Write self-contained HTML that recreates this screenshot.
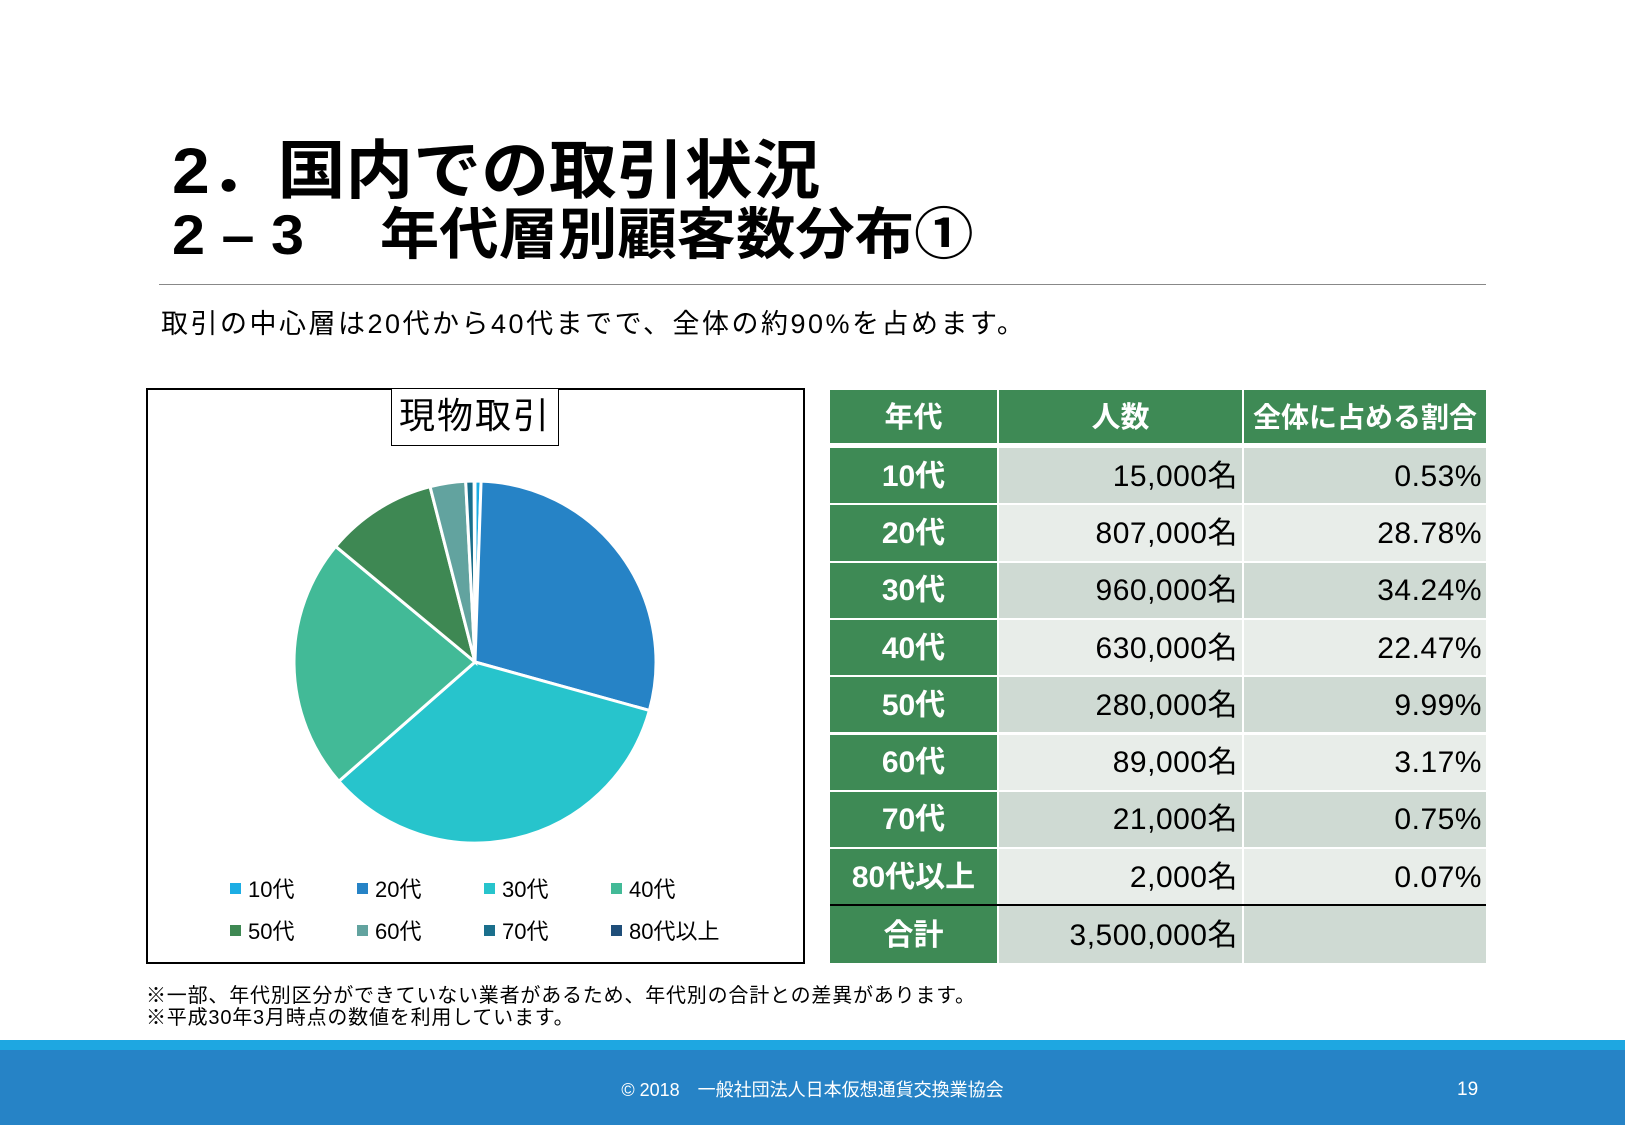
<!DOCTYPE html>
<html><head><meta charset="utf-8">
<style>
*{margin:0;padding:0;box-sizing:border-box}
body{width:1625px;height:1125px;background:#fff;position:relative;overflow:hidden;font-family:"Liberation Sans","Noto Sans CJK JP",sans-serif;color:#000}
.abs{position:absolute;white-space:nowrap}
.t1{left:172px;top:136px;font-size:64px;font-weight:bold;line-height:70px;transform:scaleX(1.06);transform-origin:left}
.t2{left:172px;top:200px;font-size:56px;font-weight:bold;line-height:70px;transform:scaleX(1.06);transform-origin:left}
.cell{position:absolute;display:flex;align-items:center;font-size:30px;line-height:36px}
.cell span{display:block;line-height:36px;padding-top:2px}
.lab{background:#3e8a55;color:#fff;font-weight:bold;justify-content:center}
.num{justify-content:flex-end;padding-right:4px;letter-spacing:0.5px}
</style></head><body>
<div class="abs t1">2．国内での取引状況</div>
<div class="abs t2">2 – 3　 年代層別顧客数分布①</div>
<div class="abs" style="left:159px;top:284px;width:1327px;height:1px;background:#888"></div>
<div class="abs" style="left:161px;top:306px;font-size:27px;line-height:36px;letter-spacing:2.5px">取引の中心層は20代から40代までで、全体の約90%を占めます。</div>

<div class="abs" style="left:146px;top:388px;width:659px;height:576px;border:2px solid #000"></div>
<div class="abs" style="left:391px;top:388px;width:168px;height:58px;border:1.5px solid #000;background:#fff;font-size:36px;line-height:54px;text-align:center;letter-spacing:2px">現物取引</div>
<svg class="abs" id="pie" style="left:0;top:0" width="1625" height="1125"></svg>

<div id="table"></div>

<div class="abs" style="left:146px;top:984px;font-size:20px;line-height:24px;letter-spacing:0.8px">※一部、年代別区分ができていない業者があるため、年代別の合計との差異があります。</div>
<div class="abs" style="left:146px;top:1006px;font-size:20px;line-height:24px;letter-spacing:0.8px">※平成30年3月時点の数値を利用しています。</div>

<div class="abs" style="left:0;top:1040px;width:1625px;height:10px;background:#1ea7e1"></div>
<div class="abs" style="left:0;top:1050px;width:1625px;height:75px;background:#2683c6"></div>
<div class="abs" style="left:0;width:1625px;top:1078px;text-align:center;color:#fff;font-size:18px;line-height:24px">© 2018　一般社団法人日本仮想通貨交換業協会</div>
<div class="abs" style="left:1457px;top:1078px;color:#fff;font-size:19px;line-height:24px">19</div>

<script>
const categories=["10代","20代","30代","40代","50代","60代","70代","80代以上"];
const counts=[15000,807000,960000,630000,280000,89000,21000,2000];
const countLabels=["15,000名","807,000名","960,000名","630,000名","280,000名","89,000名","21,000名","2,000名"];
const pctLabels=["0.53%","28.78%","34.24%","22.47%","9.99%","3.17%","0.75%","0.07%"];
const totalLabel="3,500,000名";
const colors=["#1cade4","#2683c6","#27c4cc","#42ba97","#3e8853","#62a39f","#1a6f8c","#1f4e79"];

const NS="http://www.w3.org/2000/svg";
const svg=document.getElementById('pie');
const cx=475,cy=662,r=181;
const sum=counts.reduce((a,b)=>a+b,0);
let a0=0;
counts.forEach((v,i)=>{
  const a1=a0+v/sum*Math.PI*2;
  const x0=cx+r*Math.sin(a0),y0=cy-r*Math.cos(a0);
  const x1=cx+r*Math.sin(a1),y1=cy-r*Math.cos(a1);
  const p=document.createElementNS(NS,'path');
  p.setAttribute('d',`M${cx},${cy}L${x0},${y0}A${r},${r} 0 ${a1-a0>Math.PI?1:0} 1 ${x1},${y1}Z`);
  p.setAttribute('fill',colors[i]);p.setAttribute('stroke','#fff');p.setAttribute('stroke-width','3');
  
  
  svg.appendChild(p);
  a0=a1;
});
categories.forEach((c,i)=>{
  const x=230+(i%4)*127,y=(i<4?889:931);
  const g=document.createElementNS(NS,'g');
  
  
  const s=document.createElementNS(NS,'rect');
  s.setAttribute('x',x);s.setAttribute('y',y-6);s.setAttribute('width',11);s.setAttribute('height',11);s.setAttribute('fill',colors[i]);
  const t=document.createElementNS(NS,'text');
  t.setAttribute('x',x+18);t.setAttribute('y',y+8);t.setAttribute('font-size','22');
  t.setAttribute('font-family','"Liberation Sans","Noto Sans CJK JP",sans-serif');
  t.textContent=c;
  g.appendChild(s);g.appendChild(t);svg.appendChild(g);
});

const tb=document.getElementById('table');
const cols=[[830,997],[999,1242],[1244,1486]];
function cell(x0,x1,y,h,cls,txt,bg,name){
  const d=document.createElement('div');
  d.className='cell '+cls;
  d.style.cssText=`left:${x0}px;width:${x1-x0}px;top:${y}px;height:${h}px;`+(bg?`background:${bg};`:'');
  const sp=document.createElement('span');
  sp.textContent=txt;
  d.appendChild(sp);
  
  
  tb.appendChild(d);
  return d;
}
["年代","人数","全体に占める割合"].forEach((h,i)=>{
  const d=cell(cols[i][0],cols[i][1],390,53,'lab',h,null,'header-'+i);
  d.style.fontSize=i==2?'28px':'29px';
});
const rowY=448,rowH=57.3;
categories.forEach((c,i)=>{
  const y=rowY+i*rowH, bg=i%2?'#e8ede9':'#cfdad3';
  cell(cols[0][0],cols[0][1],y,rowH-2,'lab',c,null,'row-label-'+c);
  cell(cols[1][0],cols[1][1],y,rowH-2,'num',countLabels[i],bg,'count-'+c);
  cell(cols[2][0],cols[2][1],y,rowH-2,'num',pctLabels[i],bg,'percent-'+c);
});
const ty=rowY+8*rowH;
cell(cols[0][0],cols[0][1],ty,963-ty,'lab','合計',null,'total-label');
cell(cols[1][0],cols[1][1],ty,963-ty,'num',totalLabel,'#cfdad3','total-count');
cell(cols[2][0],cols[2][1],ty,963-ty,'num','','#cfdad3','total-percent');
const line=document.createElement('div');
line.className='abs';
line.style.cssText=`left:830px;width:656px;top:${ty-2}px;height:2px;background:#000`;


tb.appendChild(line);
</script>
</body></html>
